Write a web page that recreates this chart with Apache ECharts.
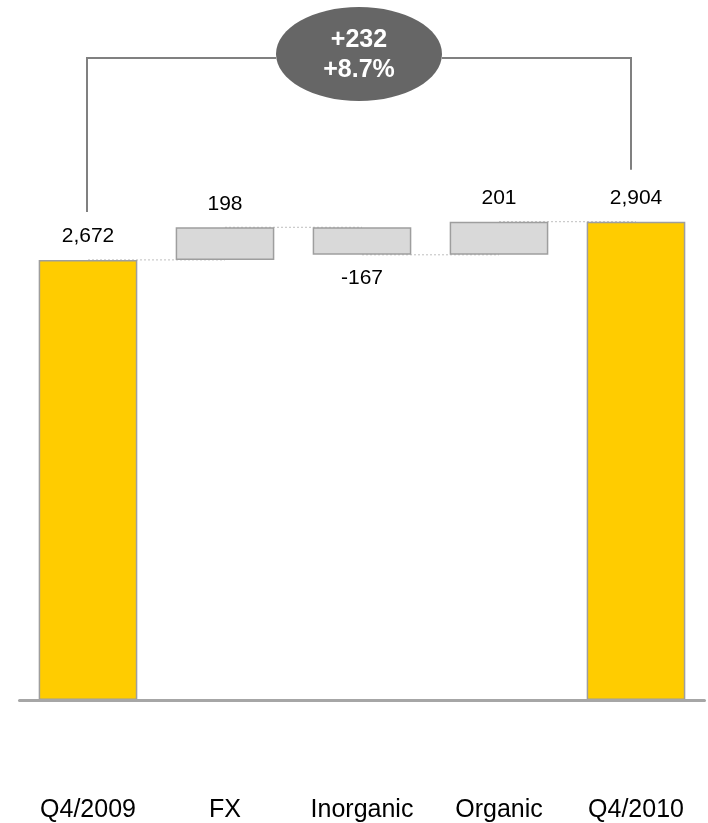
<!DOCTYPE html>
<html>
<head>
<meta charset="utf-8">
<script src="https://cdn.jsdelivr.net/npm/echarts@6/dist/echarts.min.js"></script>
<style>
html,body{margin:0;padding:0;background:#fff;}
#main{width:708px;height:823px;}
</style>
</head>
<body>
<div id="main"></div>
<script>
var categories = ['Q4/2009', 'FX', 'Inorganic', 'Organic', 'Q4/2010'];
var values = [2672, 198, -167, 201, 2904];
var isTotal = [true, false, false, false, true];
var deltaText = '+232';
var pctText = '+8.7%';

var FONT = "'Liberation Sans', Arial, sans-serif";
var baseData = [], barData = [], levels = [];
var running = 0;
for (var i = 0; i < values.length; i++) {
  var v = values[i];
  if (isTotal[i]) {
    baseData.push(0);
    running = v;
  } else {
    baseData.push(v >= 0 ? running : running + v);
    running = running + v;
  }
  levels.push(running);
  var up = v >= 0;
  barData.push({
    value: Math.abs(v),
    raw: v,
    itemStyle: {
      color: isTotal[i] ? '#FFCC00' : '#D9D9D9',
      borderColor: '#9E9E9E',
      borderWidth: 1.5
    },
    label: {
      show: true,
      position: up ? 'top' : 'bottom',
      distance: 13,
      formatter: function (p) {
        return p.data.raw.toLocaleString('en-US');
      },
      fontFamily: FONT,
      fontSize: 21,
      color: '#000'
    }
  });
}
var connectorData = [];
for (var j = 0; j < levels.length - 1; j++) connectorData.push([j, levels[j]]);

var chart = echarts.init(document.getElementById('main'));
chart.setOption({
  animation: false,
  grid: { left: 19.5, right: 3.5, top: 0, bottom: 123 },
  xAxis: {
    type: 'category',
    data: categories,
    axisTick: { show: false },
    axisLine: { lineStyle: { color: '#A6A6A6', width: 3 } },
    axisLabel: { margin: 98, fontFamily: FONT, fontSize: 25, color: '#000' },
    z: 5
  },
  yAxis: { type: 'value', min: 0, max: 4250, show: false, splitLine: { show: false } },
  series: [
    {
      type: 'custom',
      z: 1,
      data: connectorData,
      renderItem: function (params, api) {
        var a = api.coord([api.value(0), api.value(1)]);
        var b = api.coord([api.value(0) + 1, api.value(1)]);
        return {
          type: 'line',
          shape: { x1: a[0], y1: a[1], x2: b[0], y2: b[1] },
          style: { stroke: '#BFBFBF', lineWidth: 1, lineDash: [2, 2] }
        };
      }
    },
    {
      type: 'bar', stack: 'w', z: 2, barWidth: '72%',
      itemStyle: { color: 'transparent' },
      data: baseData, silent: true
    },
    {
      type: 'bar', stack: 'w', z: 2, barWidth: '72%',
      data: barData
    }
  ]
});

var pL = chart.convertToPixel({ gridIndex: 0 }, [0, values[0]]);
var pR = chart.convertToPixel({ gridIndex: 0 }, [values.length - 1, levels[levels.length - 1]]);
var bracketY = 58;
var xL = pL[0] - 1, xR = pR[0] - 5;
var cx = (xL + xR) / 2;
var rx = 83, ry = 47;
chart.setOption({
  graphic: [
    {
      type: 'polyline', z: 10,
      shape: { points: [[xL, pL[1] - 48], [xL, bracketY], [cx - rx, bracketY]] },
      style: { stroke: '#808080', lineWidth: 2, fill: null }
    },
    {
      type: 'polyline', z: 10,
      shape: { points: [[cx + rx, bracketY], [xR, bracketY], [xR, pR[1] - 52]] },
      style: { stroke: '#808080', lineWidth: 2, fill: null }
    },
    {
      type: 'ellipse', z: 11,
      shape: { cx: cx, cy: 54, rx: rx, ry: ry },
      style: { fill: '#666666', stroke: 'none' }
    },
    {
      type: 'text', z: 12,
      x: cx, y: 55,
      style: {
        text: deltaText + '\n' + pctText,
        fill: '#FFFFFF',
        font: 'bold 25px ' + FONT,
        lineHeight: 30,
        align: 'center',
        verticalAlign: 'middle'
      }
    }
  ]
});
</script>
</body>
</html>
